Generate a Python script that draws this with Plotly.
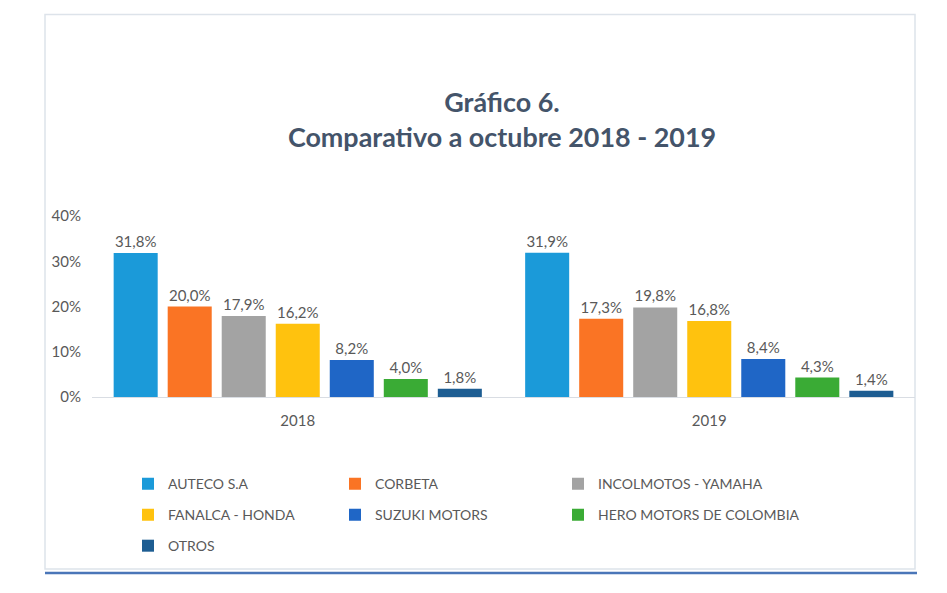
import plotly.graph_objects as go

years = ["2018", "2019"]
companies = ["AUTECO S.A", "CORBETA", "INCOLMOTOS - YAMAHA", "FANALCA - HONDA",
             "SUZUKI MOTORS", "HERO MOTORS DE COLOMBIA", "OTROS"]
values_2018 = [31.8, 20.0, 17.9, 16.2, 8.2, 4.0, 1.8]
values_2019 = [31.9, 17.3, 19.8, 16.8, 8.4, 4.3, 1.4]
colors = ["#1b9ad9", "#fa7424", "#a3a3a3", "#ffc20e", "#1f66c6", "#3aab35", "#1d5d92"]

# page body has an 8px margin; work in page pixels and convert
OFF = 8
W, H = 947 - 2 * OFF, 593 - 2 * OFF
L, R, T, B = 92 - OFF, 915 - OFF, 216 - OFF, 397.5 - OFF
pw, ph = R - L, B - T

def px(x):
    return (x - OFF - L) / pw

def py(y):
    return (B - (y - OFF)) / ph

FONT = "Lato"
TXT = "#595959"

# legend text start (page px) per item
leg_text_x = [168, 375, 598, 168, 375, 598, 168]
leg_y = [485, 485, 485, 516, 516, 516, 547]

fig = go.Figure()
layout_legends = {}
for i, name in enumerate(companies):
    lname = "legend" if i == 0 else f"legend{i + 1}"
    fig.add_trace(go.Bar(
        x=years, y=[values_2018[i], values_2019[i]], name=name,
        marker=dict(color=colors[i], line=dict(width=0)),
        texttemplate="%{y:.1f}%", textposition="outside",
        textfont=dict(family=FONT, size=15, color=TXT),
        cliponaxis=False, legend=lname, showlegend=True,
    ))
    layout_legends[lname] = dict(
        orientation="h", xanchor="left", yanchor="middle",
        x=px(leg_text_x[i] - 40), y=py(leg_y[i]), itemwidth=30,
        font=dict(family=FONT, size=14, color=TXT), bgcolor="rgba(0,0,0,0)")

fig.update_layout(
    width=W, height=H, showlegend=True,
    margin=dict(l=L, r=W - R, t=T, b=H - B, autoexpand=False),
    paper_bgcolor="white", plot_bgcolor="white",
    separators=",.",
    barmode="group", bargap=0.081, bargroupgap=0.185,
    title=dict(text="Gráfico 6.<br>Comparativo a octubre 2018 - 2019",
               x=(502 - OFF) / W, xanchor="center", xref="container",
               y=1 - (118.5 - OFF - 6.5) / H, yanchor="middle", yref="container",
               font=dict(family=FONT, size=26.9, color="#44546a", weight="bold")),
    xaxis=dict(showline=True, linecolor="#d9dde3", linewidth=1.3,
               showgrid=False, ticks="", ticklabelstandoff=10,
               tickfont=dict(family=FONT, size=15, color=TXT)),
    yaxis=dict(range=[0, 40], dtick=10, ticksuffix="%", showgrid=False,
               zeroline=False, showline=False, ticks="", ticklabelstandoff=10,
               tickfont=dict(family=FONT, size=15, color=TXT)),
    shapes=[
        dict(type="rect", xref="paper", yref="paper",
             x0=px(45), x1=px(915), y0=py(570), y1=py(14),
             line=dict(color="#dde3ea", width=1.5), fillcolor="rgba(0,0,0,0)", layer="below"),
        dict(type="line", xref="paper", yref="paper",
             x0=px(45), x1=px(917), y0=py(574), y1=py(574),
             line=dict(color="#4a76b8", width=2.5)),
    ],
    **layout_legends,
)

fig.write_html("out.html")
